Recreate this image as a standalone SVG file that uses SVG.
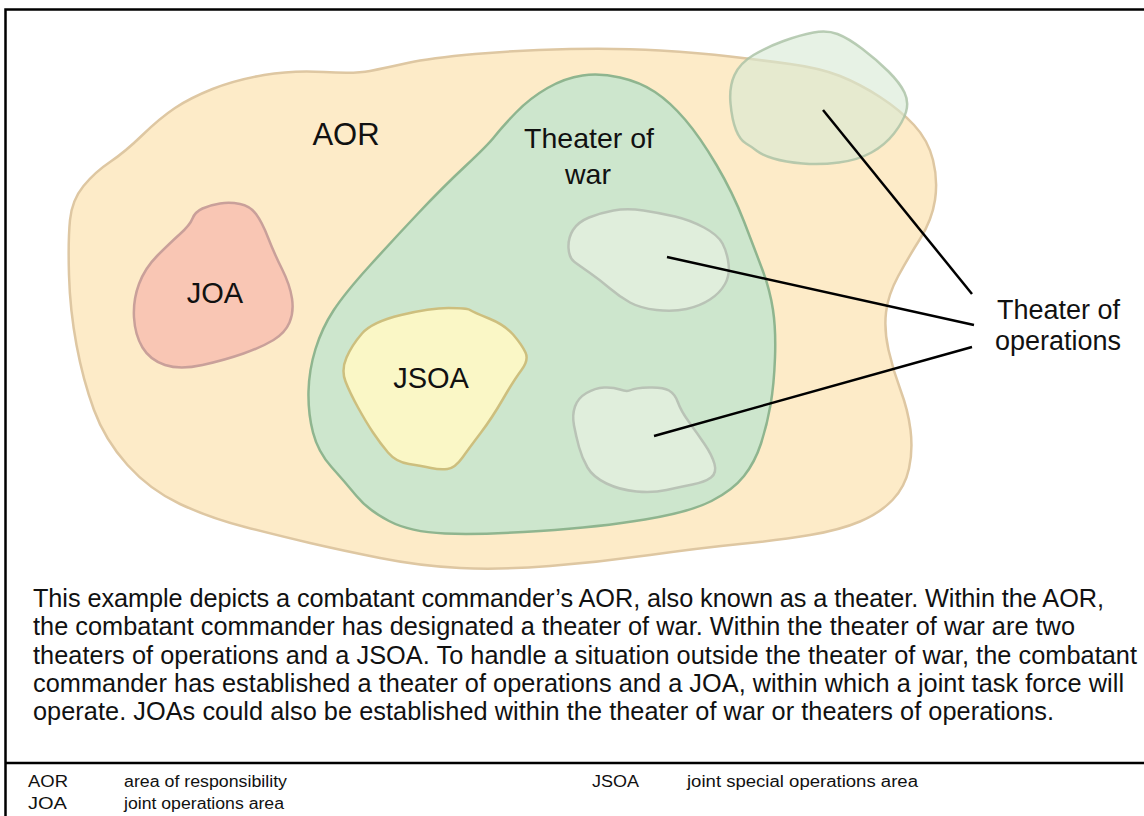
<svg xmlns="http://www.w3.org/2000/svg" width="1144" height="816" viewBox="0 0 1144 816">
<style>
.lbl{font-family:"Liberation Sans",Arial,sans-serif;fill:#111;text-anchor:middle}
.para{font-family:"Liberation Sans",Arial,sans-serif;fill:#111;font-size:25.3px}
.leg{font-family:"Liberation Sans",Arial,sans-serif;fill:#111;font-size:16px}
.area{stroke-width:2.5;stroke-linejoin:round}
.lead{stroke:#000;stroke-width:2.5;fill:none;stroke-linecap:butt}
</style>
<rect x="0" y="0" width="1144" height="816" fill="#fff"/>
<g id="frame" fill="none" stroke="#000">
<path d="M5.5,830 V9.5 H1150" stroke-width="2.5"/>
<line x1="5" y1="763" x2="1150" y2="763" stroke-width="2.5"/>
</g>
<g id="aor">
<path class="area" fill="#fdebc8" stroke="#dec7a2" d="M69,275 Q68,240 70,220 Q72,200 83.5,186 Q95,172 110,162 Q125,152 142.5,135 Q160,118 175,108 Q190,98 212.5,89 Q235,80 264,75 Q293,70 324,72 Q355,74 370,71 Q385,68 407.5,63 Q430,58 475,54 Q520,50 570,49 Q620,48 660,50.5 Q700,53 730,56.5 Q760,60 790,64 Q820,68 840,76 Q860,84 880,97 Q900,110 914,125 Q928,140 933,160 Q938,180 935,200 Q932,220 920,239 Q908,258 898,276.5 Q888,295 886,312.5 Q884,330 888.5,350 Q893,370 900.5,390 Q908,410 910.5,430 Q913,450 909,468.5 Q905,487 892.5,500 Q880,513 860,521.5 Q840,530 810,535 Q780,540 740,544 Q700,548 650,555 Q600,562 550,566 Q500,570 460,568 Q420,566 380,558 Q340,550 310,543 Q280,536 245,527 Q210,518 180,504 Q150,490 127.5,465 Q105,440 94,410 Q83,380 76.5,345 Q70,310 69,275 Z"/>
<text class="lbl" x="346" y="145" font-size="31">AOR</text>
</g>
<g id="joa">
<path class="area" fill="#f9c6b4" stroke="#c9a09a" d="M220,203.5 Q230,202 240,204 Q250,206 256,214 Q262,222 268,237.5 Q274,253 282,269 Q290,285 292,298.5 Q294,312 289.5,322.5 Q285,333 273.5,340 Q262,347 243.5,353.5 Q225,360 202.5,365 Q180,370 165,365 Q150,360 142.5,347.5 Q135,335 134,317.5 Q133,300 139,284 Q145,268 157.5,255.5 Q170,243 180,234 Q190,225 192.5,218.5 Q195,212 202.5,208.5 Q210,205 220,203.5 Z"/>
<text class="lbl" x="215" y="303" font-size="29">JOA</text>
</g>
<g id="theater-of-war">
<path class="area" fill="#cde6cd" stroke="#8fb58f" d="M582.5,75.5 Q600,73 620,77.5 Q640,82 655,92 Q670,102 685,119.5 Q700,137 716.5,165 Q733,193 744,221.5 Q755,250 762.5,270 Q770,290 773,310 Q776,330 775,357.5 Q774,385 770.5,405 Q767,425 761,443.5 Q755,462 744,476 Q733,490 711.5,501 Q690,512 645,519.5 Q600,527 540,531 Q480,535 445,533.5 Q410,532 389,521 Q368,510 356.5,496 Q345,482 331.5,467 Q318,452 313,432.5 Q308,413 308.5,391.5 Q309,370 315.5,349 Q322,328 333.5,310.5 Q345,293 369,266.5 Q393,240 418,213.5 Q443,187 465.5,166 Q488,145 495,136 Q502,127 516,112.5 Q530,98 547.5,88 Q565,78 582.5,75.5 Z"/>
<text class="lbl" x="589" y="148" font-size="28.5">Theater of</text>
<text class="lbl" x="588" y="184" font-size="28.5">war</text>
</g>
<g id="jsoa">
<path class="area" fill="#faf7c6" stroke="#cdbf7e" d="M401,315 Q430,308 448.5,308 Q467,308 470,310 Q473,312 489,318.5 Q505,325 513.5,335 Q522,345 525.5,352.5 Q529,360 521.5,370 Q514,380 503,399 Q492,418 481,432.5 Q470,447 462.5,457.5 Q455,468 447.5,469 Q440,470 431,468 Q422,466 409,464 Q396,462 388,452.5 Q380,443 373,432.5 Q366,422 358,407.5 Q350,393 345.5,381.5 Q341,370 346.5,357.5 Q352,345 362,333.5 Q372,322 401,315 Z"/>
<text class="lbl" x="431" y="388" font-size="29">JSOA</text>
</g>
<g id="theater-ops-2">
<path class="area" fill="#e0eedc" stroke="#b9c3b6" d="M613.5,210.5 Q627,208 643.5,210.5 Q660,213 675,216.5 Q690,220 704,227.5 Q718,235 722.5,243.5 Q727,252 728.5,263.5 Q730,275 725,284 Q720,293 710,299.5 Q700,306 686.5,309 Q673,312 656.5,310 Q640,308 630,302.5 Q620,297 610,288.5 Q600,280 590,273 Q580,266 574.5,262 Q569,258 568.5,248 Q568,238 573,230 Q578,222 589,217.5 Q600,213 613.5,210.5 Z"/>
</g>
<g id="theater-ops-3">
<path class="area" fill="#e0eedc" stroke="#b9c3b6" d="M586.5,393 Q595,388 604,387.5 Q613,387 620,389.5 Q627,392 631,390 Q635,388 649,387.5 Q663,387 669,390.5 Q675,394 678,402.5 Q681,411 689,422 Q697,433 704.5,444 Q712,455 714.5,464 Q717,473 711,477.5 Q705,482 692.5,484.5 Q680,487 666.5,490 Q653,493 636.5,491.5 Q620,490 606.5,483.5 Q593,477 587.5,467.5 Q582,458 579,447 Q576,436 574,425.5 Q572,415 575,406.5 Q578,398 586.5,393 Z"/>
</g>
<g id="theater-ops-1">
<path class="area" fill="#d7e9d3" fill-opacity="0.6" stroke="#a9c0a4" stroke-opacity="0.8" d="M813.5,32.5 Q827,30 837.5,34 Q848,38 862.5,49 Q877,60 888.5,71.5 Q900,83 904.5,92.5 Q909,102 906,112 Q903,122 894,133.5 Q885,145 871.5,152.5 Q858,160 839,162.5 Q820,165 802.5,163.5 Q785,162 773.5,158.5 Q762,155 757,151 Q752,147 746,143.5 Q740,140 736,130 Q732,120 730.5,103.5 Q729,87 734.5,75 Q740,63 753.5,55 Q767,47 783.5,41 Q800,35 813.5,32.5 Z"/>
</g>
<g id="connectors">
<line class="lead" x1="823" y1="110" x2="972" y2="294"/>
<line class="lead" x1="667" y1="257" x2="974" y2="325"/>
<line class="lead" x1="654" y1="436" x2="972" y2="347"/>
</g>
<g id="theater-ops-label">
<text class="lbl" x="1058.5" y="319" font-size="27">Theater of</text>
<text class="lbl" x="1058" y="350" font-size="27">operations</text>
</g>
<g id="description">
<text class="para" x="33" y="607" textLength="1071" lengthAdjust="spacing">This example depicts a combatant commander’s AOR, also known as a theater. Within the AOR,</text>
<text class="para" x="33" y="635.3" textLength="1042" lengthAdjust="spacing">the combatant commander has designated a theater of war. Within the theater of war are two</text>
<text class="para" x="33" y="663.6" textLength="1104" lengthAdjust="spacing">theaters of operations and a JSOA. To handle a situation outside the theater of war, the combatant</text>
<text class="para" x="33" y="692" textLength="1091" lengthAdjust="spacing">commander has established a theater of operations and a JOA, within which a joint task force will</text>
<text class="para" x="33" y="720.3" textLength="1021" lengthAdjust="spacing">operate. JOAs could also be established within the theater of war or theaters of operations.</text>
</g>
<g id="legend">
<text class="leg" x="28" y="787" textLength="40" lengthAdjust="spacingAndGlyphs">AOR</text>
<text class="leg" x="124" y="787" textLength="163" lengthAdjust="spacingAndGlyphs">area of responsibility</text>
<text class="leg" x="28" y="809" textLength="39" lengthAdjust="spacingAndGlyphs">JOA</text>
<text class="leg" x="124" y="809" textLength="160" lengthAdjust="spacingAndGlyphs">joint operations area</text>
<text class="leg" x="592" y="787" textLength="47" lengthAdjust="spacingAndGlyphs">JSOA</text>
<text class="leg" x="687" y="787" textLength="231" lengthAdjust="spacingAndGlyphs">joint special operations area</text>
</g>
</svg>
